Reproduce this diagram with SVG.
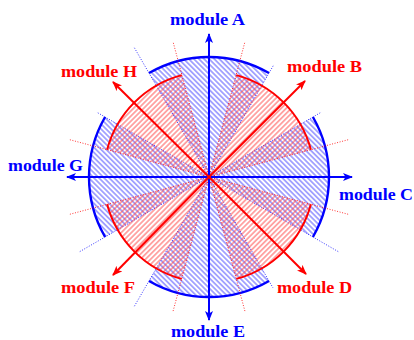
<svg xmlns="http://www.w3.org/2000/svg" width="414" height="340" viewBox="0 0 414 340">
<style>
.lb{font-family:"Liberation Serif","Times New Roman",serif;font-weight:bold;font-size:16px}
.bl{fill:#0000ff}
.rd{fill:#ff0000}
.bs{fill:url(#hb);stroke:none}
.rs{fill:url(#hr);stroke:none}
.ba{fill:none;stroke:#0000ff;stroke-width:2.4}
.ra{fill:none;stroke:#ff0000;stroke-width:2}
.bd{stroke:#0000ff;stroke-width:0.8;stroke-dasharray:1 1.6;fill:none}
.rdl{stroke:#ff0000;stroke-width:0.8;stroke-dasharray:1 1.6;fill:none}
.bx{stroke:#0000ff;stroke-width:2;marker-end:url(#mb)}
.rx{stroke:#ff0000;stroke-width:2;marker-end:url(#mr)}
</style>
<defs>
<pattern id="hb" patternUnits="userSpaceOnUse" width="3.6" height="3.6" patternTransform="rotate(45)">
<line x1="0" y1="1.8" x2="3.6" y2="1.8" stroke="#4444ff" stroke-width="0.9"/>
</pattern>
<pattern id="hr" patternUnits="userSpaceOnUse" width="3.6" height="3.6" patternTransform="rotate(-45)">
<line x1="0" y1="1.8" x2="3.6" y2="1.8" stroke="#ff4444" stroke-width="0.9"/>
</pattern>
<marker id="mb" viewBox="0 0 10 8" refX="9" refY="4" markerWidth="10" markerHeight="8" markerUnits="userSpaceOnUse" orient="auto">
<path d="M0,0 L10,4 L0,8 L2.5,4 Z" fill="#0000ff"/>
</marker>
<marker id="mr" viewBox="0 0 10 8" refX="9" refY="4" markerWidth="10" markerHeight="8" markerUnits="userSpaceOnUse" orient="auto">
<path d="M0,0 L10,4 L0,8 L2.5,4 Z" fill="#ff0000"/>
</marker>
</defs>

<g id="moduleA">
<path class="bs" d="M209,177 L149,73.08 A120,120 0 0,1 269,73.08 Z"/>
<line class="bd" x1="209" y1="177" x2="134" y2="47.1"/>
<line class="bd" x1="209" y1="177" x2="274" y2="64.4"/>
<path class="ba" d="M149,73.08 A120,120 0 0,1 269,73.08"/>
<text class="lb bl" x="170" y="25" textLength="75" lengthAdjust="spacingAndGlyphs">module A</text>
</g>
<g id="moduleC">
<path class="bs" d="M209,177 L312.92,117 A120,120 0 0,1 312.92,237 Z"/>
<line class="bd" x1="209" y1="177" x2="321.6" y2="112"/>
<line class="bd" x1="209" y1="177" x2="338.9" y2="252"/>
<path class="ba" d="M312.92,117 A120,120 0 0,1 312.92,237"/>
<text class="lb bl" x="339" y="200" textLength="74" lengthAdjust="spacingAndGlyphs">module C</text>
</g>
<g id="moduleE">
<path class="bs" d="M209,177 L269,280.92 A120,120 0 0,1 149,280.92 Z"/>
<line class="bd" x1="209" y1="177" x2="273" y2="287.9"/>
<line class="bd" x1="209" y1="177" x2="134" y2="306.9"/>
<path class="ba" d="M269,280.92 A120,120 0 0,1 149,280.92"/>
<text class="lb bl" x="171" y="337" textLength="74" lengthAdjust="spacingAndGlyphs">module E</text>
</g>
<g id="moduleG">
<path class="bs" d="M209,177 L105.08,237 A120,120 0 0,1 105.08,117 Z"/>
<line class="bd" x1="209" y1="177" x2="79.1" y2="252"/>
<line class="bd" x1="209" y1="177" x2="96.4" y2="112"/>
<path class="ba" d="M105.08,237 A120,120 0 0,1 105.08,117"/>
<text class="lb bl" x="8" y="171" textLength="75" lengthAdjust="spacingAndGlyphs">module G</text>
</g>

<g id="moduleB">
<path class="rs" d="M209,177 L236.31,75.1 A105.5,105.5 0 0,1 310.9,149.69 Z"/>
<line class="rdl" x1="209" y1="177" x2="244.7" y2="42.7"/>
<line class="rdl" x1="209" y1="177" x2="349" y2="139.5"/>
<path class="ra" d="M236.31,75.1 A105.5,105.5 0 0,1 310.9,149.69"/>
<text class="lb rd" x="287" y="72" textLength="75" lengthAdjust="spacingAndGlyphs">module B</text>
</g>
<g id="moduleD">
<path class="rs" d="M209,177 L310.9,204.31 A105.5,105.5 0 0,1 236.31,278.9 Z"/>
<line class="rdl" x1="209" y1="177" x2="349" y2="214.5"/>
<line class="rdl" x1="209" y1="177" x2="245.2" y2="312.2"/>
<path class="ra" d="M310.9,204.31 A105.5,105.5 0 0,1 236.31,278.9"/>
<text class="lb rd" x="277" y="293" textLength="75" lengthAdjust="spacingAndGlyphs">module D</text>
</g>
<g id="moduleF">
<path class="rs" d="M209,177 L181.69,278.9 A105.5,105.5 0 0,1 107.1,204.31 Z"/>
<line class="rdl" x1="209" y1="177" x2="172.8" y2="312.2"/>
<line class="rdl" x1="209" y1="177" x2="69" y2="214.5"/>
<path class="ra" d="M181.69,278.9 A105.5,105.5 0 0,1 107.1,204.31"/>
<text class="lb rd" x="61" y="293" textLength="74" lengthAdjust="spacingAndGlyphs">module F</text>
</g>
<g id="moduleH">
<path class="rs" d="M209,177 L107.1,149.69 A105.5,105.5 0 0,1 181.69,75.1 Z"/>
<line class="rdl" x1="209" y1="177" x2="69" y2="139.5"/>
<line class="rdl" x1="209" y1="177" x2="173.3" y2="42.7"/>
<path class="ra" d="M107.1,149.69 A105.5,105.5 0 0,1 181.69,75.1"/>
<text class="lb rd" x="61" y="77" textLength="76" lengthAdjust="spacingAndGlyphs">module H</text>
</g>

<g id="connectors">
<line class="bx" x1="209" y1="177" x2="209" y2="34"/>
<line class="bx" x1="209" y1="177" x2="352" y2="177"/>
<line class="bx" x1="209" y1="177" x2="209" y2="320"/>
<line class="bx" x1="209" y1="177" x2="67" y2="177"/>
<line class="rx" x1="209" y1="177" x2="305" y2="81"/>
<line class="rx" x1="209" y1="177" x2="306" y2="274"/>
<line class="rx" x1="209" y1="177" x2="113" y2="275"/>
<line class="rx" x1="209" y1="177" x2="113" y2="82"/>
</g>
</svg>
